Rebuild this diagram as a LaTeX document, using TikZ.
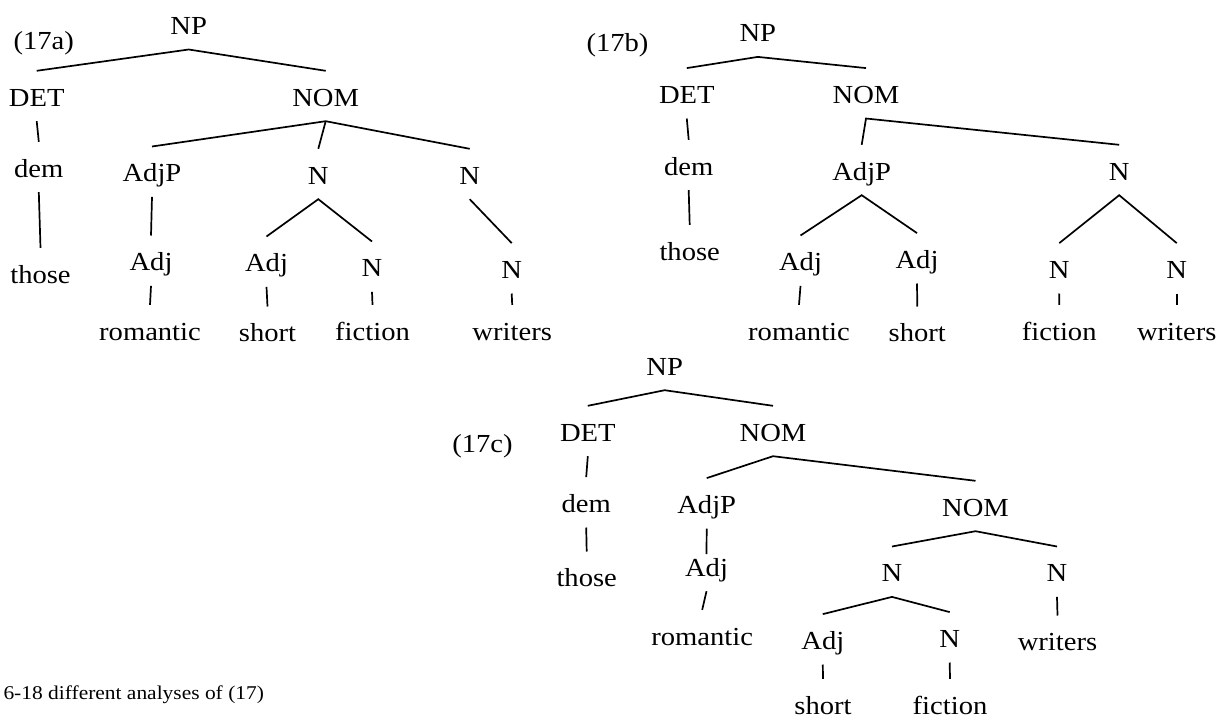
\documentclass[tikz,border=0pt]{standalone}
\usepackage{fontspec}
\setmainfont{Liberation Serif}[FakeStretch=1.1]
\begin{document}
\begin{tikzpicture}[x=1pt,y=-1pt,
  cat/.style={anchor=base, inner xsep=0pt, inner ysep=15pt, text height=20pt,
              text depth=0pt, font=\fontsize{26}{30}\selectfont},
  lowleaf/.style={cat, inner ysep=0pt, text height=35pt},
  tag/.style={anchor=base, inner sep=0pt, font=\fontsize{26}{30}\selectfont},
  branch/.style={line width=1.7pt}]
\useasboundingbox (0,0) rectangle (1227,718);

% ---------- (17a) ----------
\node[tag] (ta) at (43.7,49.5) {(17a)};
\node[cat] (a-np)    at (188.7,34.3)  {NP};
\node[cat] (a-det)   at (36.7,106)    {DET};
\node[cat] (a-nom)   at (325.7,106)   {NOM};
\node[cat] (a-dem)   at (38.8,177)    {dem};
\node[cat] (a-those) at (40.5,283)    {those};
\node[cat] (a-adjp)  at (152,181.7)   {AdjP};
\node[cat] (a-n1)    at (318.3,184)   {N};
\node[cat] (a-n2)    at (469.7,184)   {N};
\node[cat] (a-adj1)  at (151,270.7)   {Adj};
\node[cat] (a-adj2)  at (266.5,271.7) {Adj};
\node[cat] (a-n3)    at (372,276.7)   {N};
\node[cat] (a-n4)    at (511.7,278.3) {N};
\node[cat] (a-rom)   at (150,340)     {romantic};
\node[cat] (a-short) at (267.5,341.7) {short};
\node[cat] (a-fic)   at (372.5,340)   {fiction};
\node[cat] (a-wri)   at (512.2,340)   {writers};

\draw[branch] (a-det.north) -- (a-np.south) -- (a-nom.north);
\draw[branch] (a-det.south) -- (a-dem.north);
\draw[branch] (a-dem.south) -- (a-those.north);
\draw[branch] (a-adjp.north) -- (a-nom.south) -- (a-n2.north);
\draw[branch] (a-nom.south) -- (a-n1.north);
\draw[branch] (a-adjp.south) -- (a-adj1.north);
\draw[branch] (a-adj2.north) -- (a-n1.south) -- (a-n3.north);
\draw[branch] (a-n2.south) -- (a-n4.north);
\draw[branch] (a-adj1.south) -- (a-rom.north);
\draw[branch] (a-adj2.south) -- (a-short.north);
\draw[branch] (a-n3.south) -- (a-fic.north);
\draw[branch] (a-n4.south) -- (a-wri.north);

% ---------- (17b) ----------
\node[tag] (tb) at (617.5,51.5) {(17b)};
\node[cat] (b-np)    at (757.8,41.7)   {NP};
\node[cat] (b-det)   at (686.8,103.3)  {DET};
\node[cat] (b-nom)   at (866,103.3)    {NOM};
\node[cat] (b-dem)   at (688.7,175)    {dem};
\node[cat] (b-those) at (689.7,260)    {those};
\node[cat] (b-adjp)  at (861.7,180)    {AdjP};
\node[cat] (b-n1)    at (1119.2,180)   {N};
\node[cat] (b-adj1)  at (800.5,270.7)  {Adj};
\node[cat] (b-adj2)  at (917,268.3)    {Adj};
\node[cat] (b-n2)    at (1059.3,278.3) {N};
\node[cat] (b-n3)    at (1176.7,278.3) {N};
\node[cat] (b-rom)   at (799,340)      {romantic};
\node[cat] (b-short) at (917.3,341.7)  {short};
\node[cat] (b-fic)   at (1059.2,340)   {fiction};
\node[cat] (b-wri)   at (1176.7,340)   {writers};

\draw[branch] (b-det.north) -- (b-np.south) -- (b-nom.north);
\draw[branch] (b-det.south) -- (b-dem.north);
\draw[branch] (b-dem.south) -- (b-those.north);
\draw[branch] (b-adjp.north) -- (b-nom.south) -- (b-n1.north);
\draw[branch] (b-adj1.north) -- (b-adjp.south) -- (b-adj2.north);
\draw[branch] (b-n2.north) -- (b-n1.south) -- (b-n3.north);
\draw[branch] (b-adj1.south) -- (b-rom.north);
\draw[branch] (b-adj2.south) -- (b-short.north);
\draw[branch] (b-n2.south) -- (b-fic.north);
\draw[branch] (b-n3.south) -- (b-wri.north);

% ---------- (17c) ----------
\node[tag] (tc) at (482.5,452.5) {(17c)};
\node[cat] (c-np)    at (664.7,375)   {NP};
\node[cat] (c-det)   at (587.8,441)   {DET};
\node[cat] (c-nom)   at (773,441)     {NOM};
\node[cat] (c-dem)   at (586.2,512.3) {dem};
\node[cat] (c-those) at (586.7,586.7) {those};
\node[cat] (c-adjp)  at (706.7,513.3) {AdjP};
\node[cat, text height=6.7pt] (c-adj) at (706.5,576) {Adj};
\node[cat] (c-rom)   at (702.2,645)   {romantic};
\node[cat] (c-nom2)  at (975.5,516)   {NOM};
\node[cat] (c-n1)    at (892,581.7)   {N};
\node[cat] (c-n2)    at (1057,581.7)  {N};
\node[cat] (c-adj2)  at (822.8,649.3) {Adj};
\node[cat] (c-n3)    at (949.7,647.3) {N};
\node[cat] (c-wri)   at (1057.5,650.7){writers};
\node[lowleaf] (c-short) at (823,714) {short};
\node[lowleaf] (c-fic)   at (950,714) {fiction};

\draw[branch] (c-det.north) -- (c-np.south) -- (c-nom.north);
\draw[branch] (c-det.south) -- (c-dem.north);
\draw[branch] (c-dem.south) -- (c-those.north);
\draw[branch] (c-adjp.north) -- (c-nom.south) -- (c-nom2.north);
\draw[branch] (c-adjp.south) -- (c-adj.north);
\draw[branch] (c-adj.south) -- (c-rom.north);
\draw[branch] (c-n1.north) -- (c-nom2.south) -- (c-n2.north);
\draw[branch] (c-adj2.north) -- (c-n1.south) -- (c-n3.north);
\draw[branch] (c-n2.south) -- (c-wri.north);
\draw[branch] (c-adj2.south) -- (c-short.north);
\draw[branch] (c-n3.south) -- (c-fic.north);

% ---------- caption ----------
\node[anchor=base west, inner sep=0pt, font=\fontsize{19.5}{22}\selectfont]
  (cap) at (3.3,699.3) {6-18 different analyses of (17)};
\end{tikzpicture}
\end{document}
